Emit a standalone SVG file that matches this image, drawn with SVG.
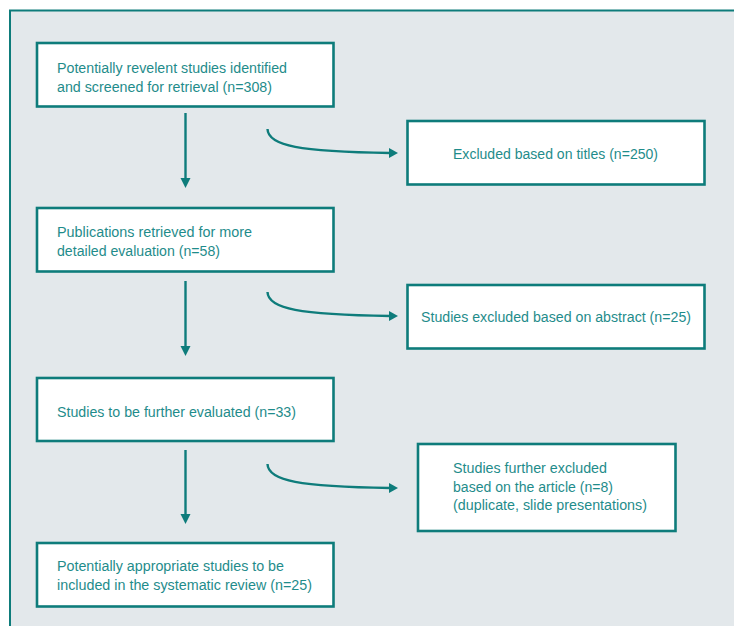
<svg xmlns="http://www.w3.org/2000/svg" width="734" height="626" viewBox="0 0 734 626">
<defs>
<style>
.box{fill:#ffffff;stroke:#0e7c7b;stroke-width:2.6}
.t{font-family:"Liberation Sans",Arial,sans-serif;font-size:15.3px;fill:#1f8c8b}
.c{fill:none;stroke:#0e7c7b;stroke-width:2.4}
.h{fill:#0e7c7b}
</style>
</defs>
<rect x="0" y="0" width="734" height="626" fill="#ffffff"/>
<rect x="10" y="10.5" width="740" height="640" fill="#e3e8eb" stroke="#0e7c7b" stroke-width="2"/>
<g id="connectors">
<path class="c" d="M185.5,113 V179"/>
<polygon class="h" points="180.5,178 190.5,178 185.5,188"/>
<path class="c" d="M185.5,281 V347"/>
<polygon class="h" points="180.5,346 190.5,346 185.5,356"/>
<path class="c" d="M185.5,450 V515"/>
<polygon class="h" points="180.5,514 190.5,514 185.5,524"/>
<path class="c" d="M267.5,129 C268,146 300,151.5 390,153"/>
<polygon class="h" points="389,148 398,153 389,158"/>
<path class="c" d="M267.5,292 C268,309 300,314.5 390,316"/>
<polygon class="h" points="389,311 398,316 389,321"/>
<path class="c" d="M267.5,464 C268,481 300,486.5 390,488"/>
<polygon class="h" points="389,483 398,488 389,493"/>
</g>
<g id="n1">
<rect class="box" x="37" y="43" width="296.5" height="63.5"/>
<text class="t" x="57" y="72.5" textLength="230" lengthAdjust="spacingAndGlyphs">Potentially revelent studies identified</text>
<text class="t" x="57" y="91.5" textLength="215" lengthAdjust="spacingAndGlyphs">and screened for retrieval (n=308)</text>
</g>
<g id="n2">
<rect class="box" x="37" y="208" width="296.5" height="63.5"/>
<text class="t" x="57" y="237" textLength="195" lengthAdjust="spacingAndGlyphs">Publications retrieved for more</text>
<text class="t" x="57" y="256" textLength="163" lengthAdjust="spacingAndGlyphs">detailed evaluation (n=58)</text>
</g>
<g id="n3">
<rect class="box" x="37" y="378" width="296.5" height="63"/>
<text class="t" x="57" y="416.5" textLength="239" lengthAdjust="spacingAndGlyphs">Studies to be further evaluated (n=33)</text>
</g>
<g id="n4">
<rect class="box" x="37" y="543" width="296.5" height="63.5"/>
<text class="t" x="57" y="570.5" textLength="227" lengthAdjust="spacingAndGlyphs">Potentially appropriate studies to be</text>
<text class="t" x="57" y="589.5" textLength="255" lengthAdjust="spacingAndGlyphs">included in the systematic review (n=25)</text>
</g>
<g id="nA">
<rect class="box" x="407.5" y="121" width="297" height="63.5"/>
<text class="t" x="453" y="158.5" textLength="205" lengthAdjust="spacingAndGlyphs">Excluded based on titles (n=250)</text>
</g>
<g id="nB">
<rect class="box" x="407.5" y="285" width="297" height="63.5"/>
<text class="t" x="421" y="322" textLength="270" lengthAdjust="spacingAndGlyphs">Studies excluded based on abstract (n=25)</text>
</g>
<g id="nC">
<rect class="box" x="418" y="444" width="257.5" height="87"/>
<text class="t" x="453" y="473" textLength="154" lengthAdjust="spacingAndGlyphs">Studies further excluded</text>
<text class="t" x="453" y="491.5" textLength="160" lengthAdjust="spacingAndGlyphs">based on the article (n=8)</text>
<text class="t" x="453" y="510" textLength="194" lengthAdjust="spacingAndGlyphs">(duplicate, slide presentations)</text>
</g>
</svg>
